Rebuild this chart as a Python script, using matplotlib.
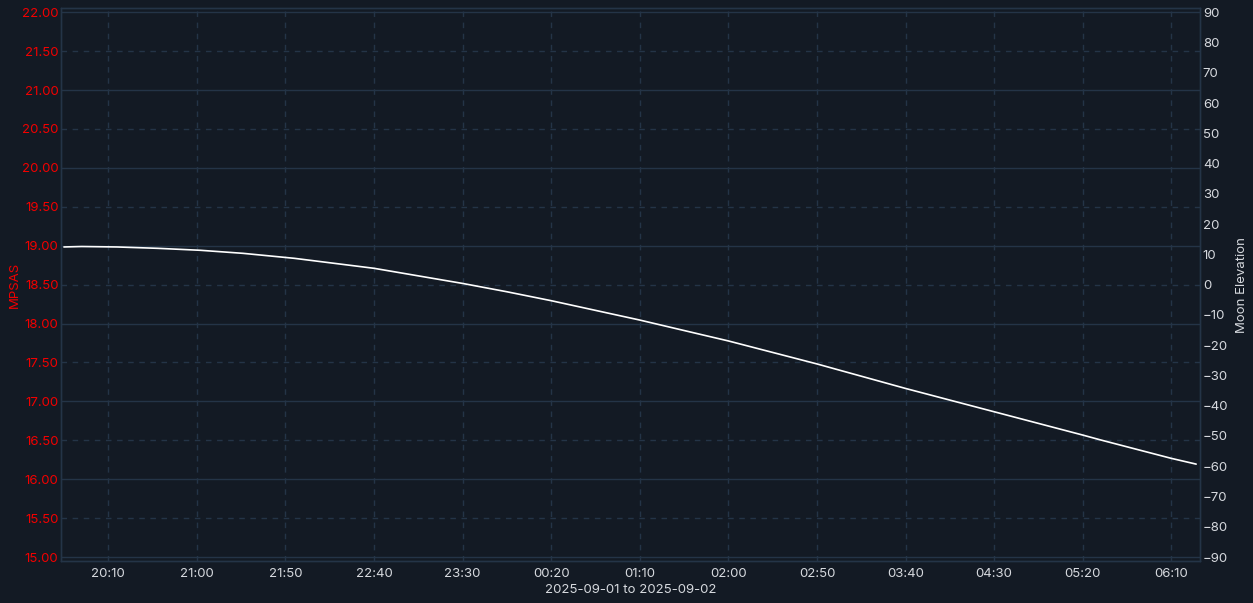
import matplotlib
matplotlib.use("Agg")
import matplotlib.pyplot as plt
import matplotlib.dates as mdates
from matplotlib.ticker import MultipleLocator, FormatStrFormatter
from datetime import datetime, timedelta

# ---- data ----
times = ["2025-09-01 19:45", "2025-09-01 19:55", "2025-09-01 20:15", "2025-09-01 20:38",
         "2025-09-01 21:02", "2025-09-01 21:26", "2025-09-01 21:55", "2025-09-01 22:40",
         "2025-09-01 23:30", "2025-09-01 23:55", "2025-09-02 00:20", "2025-09-02 01:10",
         "2025-09-02 01:44", "2025-09-02 02:00", "2025-09-02 02:50", "2025-09-02 03:40",
         "2025-09-02 04:30", "2025-09-02 05:20", "2025-09-02 05:30", "2025-09-02 06:10",
         "2025-09-02 06:24"]
moon_elev = [12.45, 12.6, 12.45, 12.0, 11.35, 10.35, 8.7, 5.4,
             0.4, -2.35, -5.3, -11.7, -16.4, -18.6, -26.2, -34.3,
             -42.0, -49.7, -51.3, -57.4, -59.3]
tick_labels = ["20:10", "21:00", "21:50", "22:40", "23:30", "00:20", "01:10",
               "02:00", "02:50", "03:40", "04:30", "05:20", "06:10"]
tick_dates = ["2025-09-01"] * 5 + ["2025-09-02"] * 8
xlabel = "2025-09-01 to 2025-09-02"

plt.rcParams['font.family'] = ['Inter', 'DejaVu Sans']

BG = '#131a24'
GRID = '#243447'
TXT = '#d6d9de'
RED = '#f20000'
FS = 9.5

t = [datetime.strptime(s, "%Y-%m-%d %H:%M") for s in times]
ticks = [datetime.strptime(d + " " + l, "%Y-%m-%d %H:%M") for d, l in zip(tick_dates, tick_labels)]

fig = plt.figure(figsize=(12.53, 6.03), dpi=100, facecolor=BG)
ax = fig.add_axes([0.0489, 0.0697, 0.9088, 0.9165])
ax.set_facecolor(BG)
ax.set_ylim(14.95, 22.05)
ax.yaxis.set_major_locator(MultipleLocator(1.0))
ax.yaxis.set_minor_locator(MultipleLocator(0.5))
ax.yaxis.set_major_formatter(FormatStrFormatter('%.2f'))
ax.yaxis.set_minor_formatter(FormatStrFormatter('%.2f'))
ax.tick_params(axis='y', which='both', colors=RED, labelcolor=RED, length=0, pad=2, labelsize=FS)
ax.set_ylabel("MPSAS", color=RED, fontsize=FS)
ax.yaxis.set_label_coords(-0.0355, 0.5)

ax.set_xlim(datetime(2025, 9, 1, 19, 43, 30), datetime(2025, 9, 2, 6, 26, 10))
ax.set_xticks(ticks)
ax.set_xticklabels(tick_labels)
ax.tick_params(axis='x', colors=TXT, labelcolor=TXT, length=0, pad=5, labelsize=FS)
ax.set_xlabel(xlabel, color=TXT, fontsize=FS, labelpad=3)

ax.grid(True, axis='y', which='major', color=GRID, linestyle='-', linewidth=1.0)
ax.grid(True, axis='y', which='minor', color=GRID, linestyle=(0, (4, 4)), linewidth=1.0)
ax.grid(True, axis='x', which='major', color=GRID, linestyle=(0, (4, 4)), linewidth=1.0)
ax.set_axisbelow(True)

ax2 = ax.twinx()
ax2.set_ylim(-91.3, 91.3)
ax2.yaxis.set_major_locator(MultipleLocator(10))
ax2.tick_params(axis='y', colors=TXT, labelcolor=TXT, length=0, pad=2, labelsize=FS)
ax2.set_ylabel("Moon Elevation", color=TXT, fontsize=FS)
ax2.yaxis.set_label_coords(1.0316, 0.5)
ax2.plot(t, moon_elev, color='white', linewidth=1.2, solid_capstyle='round')

for a in (ax, ax2):
    for s in a.spines.values():
        s.set_color(GRID)
        s.set_linewidth(1.0)

fig.savefig("out.png", dpi=100, facecolor=BG)
